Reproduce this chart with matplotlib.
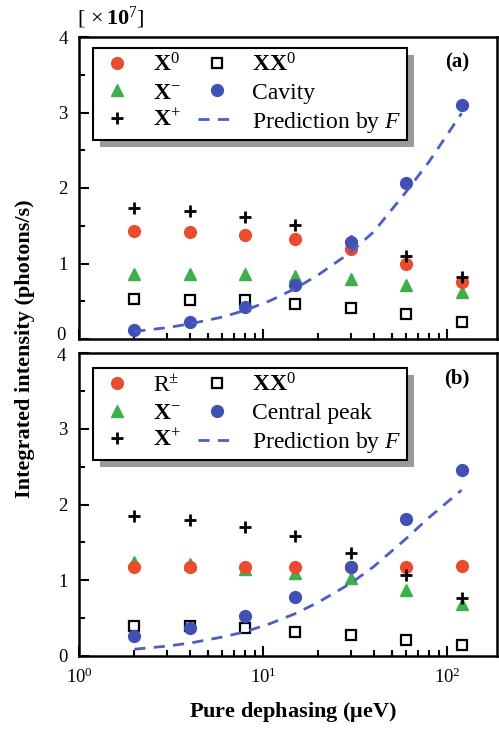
import numpy as np
import matplotlib
matplotlib.use("Agg")
import matplotlib.pyplot as plt
from matplotlib.patches import Rectangle
from matplotlib.ticker import LogLocator, MultipleLocator, NullFormatter, FixedLocator, FixedFormatter

plt.rcParams['font.family'] = ['Liberation Serif', 'DejaVu Serif']
plt.rcParams['mathtext.fontset'] = 'custom'
plt.rcParams['mathtext.rm'] = 'Liberation Serif'
plt.rcParams['mathtext.bf'] = 'Liberation Serif:bold'
plt.rcParams['mathtext.it'] = 'Liberation Serif:italic'

# pure dephasing (ueV)
dephasing = [2, 4, 8, 15, 30, 60, 120]

# panel (a), units of 1e7 photons/s
a_x0 = [1.43, 1.42, 1.38, 1.32, 1.19, 1.00, 0.76]
a_xminus = [0.86, 0.86, 0.86, 0.83, 0.79, 0.71, 0.62]
a_xplus = [1.73, 1.69, 1.61, 1.51, 1.30, 1.10, 0.82]
a_xx0 = [0.53, 0.52, 0.51, 0.46, 0.41, 0.33, 0.23]
a_cavity = [0.12, 0.22, 0.42, 0.71, 1.28, 2.07, 3.10]

# panel (b)
b_rpm = [1.17, 1.17, 1.17, 1.17, 1.17, 1.18, 1.19]
b_xminus = [1.24, 1.22, 1.15, 1.10, 1.03, 0.87, 0.68]
b_xplus = [1.85, 1.80, 1.70, 1.58, 1.36, 1.07, 0.76]
b_xx0 = [0.40, 0.40, 0.37, 0.32, 0.28, 0.21, 0.15]
b_central = [0.26, 0.37, 0.53, 0.78, 1.17, 1.81, 2.45]

# prediction by F (dashed curves)
pred_x = [2, 3, 4, 6, 8, 11, 15, 20, 30, 40, 60, 80, 120]
a_pred = [0.10, 0.15, 0.20, 0.29, 0.38, 0.51, 0.67, 0.85, 1.15, 1.42, 1.95, 2.35, 2.99]
b_pred = [0.09, 0.13, 0.17, 0.25, 0.32, 0.43, 0.56, 0.71, 0.96, 1.18, 1.55, 1.83, 2.19]

y_ticks = [0, 1, 2, 3, 4]

RED = '#eb4b2f'
GREEN = '#3db04b'
BLUE = '#4050b5'
DASH = '#4a5fc4'

W, H = 499, 730
fig = plt.figure(figsize=(W / 100, H / 100), dpi=100)


def px_axes(left, top, right, bottom):
    return fig.add_axes([left / W, (H - bottom) / H, (right - left) / W, (bottom - top) / H])


def draw_panel(ax, first, xm, xp, xx, peak, pred, first_lab, peak_lab, tag, top_y, skip, nudge):
    ax.plot(dephasing, xm, '^', color=GREEN, ms=8.5, label=r'$\mathbf{X}^{-}$', zorder=3)
    ax.plot(dephasing, first, 'o', color=RED, ms=8.5, label=first_lab, zorder=3)
    ax.plot(dephasing, xp, '+', color='black', ms=8, mew=2, label=r'$\mathbf{X}^{+}$', zorder=3)
    ax.plot(dephasing, xx, 's', mfc='white', mec='black', ms=7.5, mew=1.6,
            label=r'$\mathbf{XX}^{0}$', zorder=3)
    ax.plot(dephasing, peak, 'o', color=BLUE, ms=8.5, label=peak_lab, zorder=4)
    ax.plot(pred_x, pred, '--', color=DASH, lw=2, dashes=(4, 3),
            label=r'Prediction by $\mathit{F}$', zorder=5)

    ax.set_xscale('log')
    ax.set_xlim(1, 187)
    ax.set_ylim(0, 4)
    # one y label per panel is drawn by hand below, shifted so the two panels' labels do not collide
    ax.yaxis.set_major_locator(FixedLocator(y_ticks))
    ax.yaxis.set_major_formatter(FixedFormatter(['' if t == skip else str(t) for t in y_ticks]))
    ax.yaxis.set_minor_locator(MultipleLocator(0.5))
    ax.xaxis.set_major_locator(LogLocator(base=10, numticks=10))
    ax.xaxis.set_minor_locator(LogLocator(base=10, subs=np.arange(2, 10), numticks=10))
    ax.xaxis.set_minor_formatter(NullFormatter())
    ax.tick_params(which='both', direction='in', width=1.5, labelsize=13.5, top=False, right=False)
    ax.tick_params(which='major', length=7, pad=8)
    ax.tick_params(which='minor', length=4)
    for s in ax.spines.values():
        s.set_linewidth(1.8)
    ax.annotate(str(skip), xy=(0, skip), xycoords=('axes fraction', 'data'),
                xytext=(-13, nudge), textcoords='offset pixels', fontsize=13.5,
                ha='right', va='center', annotation_clip=False)

    h, l = ax.get_legend_handles_labels()
    order = [1, 0, 2, 3, 4, 5]
    leg = ax.legend([h[i] for i in order], [l[i] for i in order], ncol=2,
                    loc='upper left', bbox_to_anchor=(0.0335, top_y), fontsize=17,
                    frameon=True, fancybox=False, edgecolor='black', framealpha=1,
                    borderpad=0.22, labelspacing=0.25, handlelength=1.6,
                    handletextpad=0.7, columnspacing=0.75, borderaxespad=0)
    leg.get_frame().set_linewidth(1.5)
    leg.set_zorder(10)
    ax.text(0.905, 0.915, tag, transform=ax.transAxes, fontsize=15, fontweight='bold',
            ha='center', va='center')
    return leg


ax1 = px_axes(79, 37, 497, 339)
ax2 = px_axes(79, 353, 497, 656)

leg1 = draw_panel(ax1, a_x0, a_xminus, a_xplus, a_xx0, a_cavity, a_pred,
                  r'$\mathbf{X}^{0}$', 'Cavity', '(a)', 0.964, 0, 4)
leg2 = draw_panel(ax2, b_rpm, b_xminus, b_xplus, b_xx0, b_central, b_pred,
                  r'$\mathrm{R}^{\pm}$', 'Central peak', '(b)', 0.95, 4, -4)
ax1.tick_params(labelbottom=False)

# gray shadow behind legends
fig.canvas.draw()
for ax, leg in [(ax1, leg1), (ax2, leg2)]:
    bb = leg.get_window_extent()
    (x0, y0), (x1, y1) = ax.transAxes.inverted().transform([[bb.x0 + 7, bb.y0 - 7], [bb.x1 + 7, bb.y1 - 7]])
    ax.add_patch(Rectangle((x0, y0), x1 - x0, y1 - y0, transform=ax.transAxes,
                           facecolor='#9a9a9a', edgecolor='none', zorder=9))

fig.text(77 / W, 1 - 18 / H, r'$[\,\times\mathbf{10}^{7}]$', fontsize=16, ha='left', va='center')
fig.text(25 / W, 0.522, 'Integrated intensity (photons/s)', rotation=90, fontsize=16,
         fontweight='bold', ha='center', va='center')
fig.text(293 / W, 1 - 712 / H, r'Pure dephasing ($\mathbf{\mu}$eV)', fontsize=16,
         fontweight='bold', ha='center', va='center')

fig.savefig('out.png', dpi=100)
